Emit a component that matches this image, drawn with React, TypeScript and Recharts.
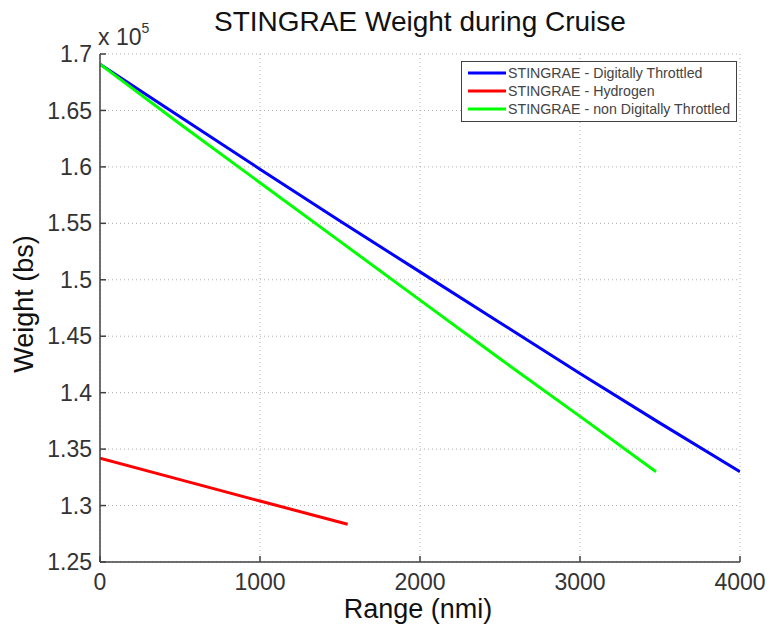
import React from 'react';
import { LineChart, Line, XAxis, YAxis, CartesianGrid, Legend } from 'recharts';

// cruise weight vs range (lbs), one list per configuration
const throttledRange = [0, 500, 1000, 1500, 2000, 2500, 3000, 3500, 4000];
const throttledWeight = [169100, 164450, 159800, 155200, 150700, 146200, 141700, 137300, 133000];

const hydrogenRange = [0, 500, 1000, 1548];
const hydrogenWeight = [134200, 132300, 130400, 128350];

const nonThrottledRange = [0, 500, 1000, 1500, 2000, 2500, 3000, 3475];
const nonThrottledWeight = [169100, 163800, 158600, 153400, 148200, 143000, 137900, 133000];

const xTicks = [0, 1000, 2000, 3000, 4000];
const yTicks = [125000, 130000, 135000, 140000, 145000, 150000, 155000, 160000, 165000, 170000];

const toPoints = (xs: number[], ys: number[]) => xs.map((x, i) => ({ x, w: ys[i] }));

const series = [
  { name: 'STINGRAE - Digitally Throttled', color: '#0000ff', data: toPoints(throttledRange, throttledWeight) },
  { name: 'STINGRAE - Hydrogen', color: '#ff0000', data: toPoints(hydrogenRange, hydrogenWeight) },
  { name: 'STINGRAE - non Digitally Throttled', color: '#00ff00', data: toPoints(nonThrottledRange, nonThrottledWeight) },
];

const FONT = '"Liberation Sans", Arial, Helvetica, sans-serif';
const AXIS = '#404040';
const tickStyle = { fontSize: 23, fill: '#333', fontFamily: FONT };

const fmtY = (v: number) => String(+(v / 1e5).toFixed(2));

const LegendBox = ({ payload }: any) => (
  <div
    style={{
      border: `1.5px solid ${AXIS}`,
      background: '#fff',
      padding: '2px 6px 3px 5px',
      fontFamily: FONT,
      fontSize: 14.2,
      color: '#444',
      lineHeight: '18px',
    }}
  >
    {(payload || []).map((p: any) => (
      <div key={p.value} style={{ display: 'flex', alignItems: 'center', whiteSpace: 'nowrap' }}>
        <svg width={40} height={18} style={{ flex: 'none' }}>
          <line x1={1} x2={39} y1={9} y2={9} stroke={p.color} strokeWidth={3} />
        </svg>
        <span style={{ marginLeft: 1 }}>{p.value}</span>
      </div>
    ))}
  </div>
);

export default function App() {
  return (
    <div style={{ position: 'fixed', left: 0, top: 0, width: 770, height: 627, background: '#fff' }}>
      <LineChart width={770} height={627} margin={{ top: 54, right: 30, bottom: 0, left: 0 }}>
        <CartesianGrid stroke="#b0b0b0" strokeDasharray="1 3" />
        <XAxis
          dataKey="x"
          type="number"
          domain={[0, 4000]}
          ticks={xTicks}
          height={65}
          stroke={AXIS}
          strokeWidth={1.5}
          tickSize={-6}
          tickMargin={18}
          tick={tickStyle}
          allowDataOverflow
        />
        <XAxis
          xAxisId="t"
          orientation="top"
          type="number"
          domain={[0, 4000]}
          ticks={xTicks}
          height={0}
          stroke={AXIS}
          strokeWidth={1.5}
          tickSize={-6}
          tick={false}
        />
        <YAxis
          type="number"
          domain={[125000, 170000]}
          ticks={yTicks}
          width={100}
          stroke={AXIS}
          strokeWidth={1.5}
          tickSize={-6}
          tickMargin={14}
          tick={tickStyle}
          tickFormatter={fmtY}
          allowDataOverflow
        />
        <YAxis
          yAxisId="r"
          orientation="right"
          type="number"
          domain={[125000, 170000]}
          ticks={yTicks}
          width={0}
          stroke={AXIS}
          strokeWidth={1.5}
          tickSize={-6}
          tick={false}
        />
        <Legend
          content={<LegendBox />}
          layout="vertical"
          verticalAlign="middle"
          align="center"
          wrapperStyle={{ left: 461, top: 61, width: 'auto', right: 'auto', bottom: 'auto' }}
        />
        {series.map((s) => (
          <Line
            key={s.name}
            name={s.name}
            data={s.data}
            dataKey="w"
            stroke={s.color}
            strokeWidth={3}
            dot={false}
            activeDot={false}
            isAnimationActive={false}
          />
        ))}
      </LineChart>
      <svg
        width={770}
        height={627}
        style={{ position: 'absolute', left: 0, top: 0, pointerEvents: 'none' }}
        fontFamily={FONT}
      >
        <text x={420} y={31} textAnchor="middle" fontSize={28} fill="#111">
          STINGRAE Weight during Cruise
        </text>
        <text x={418} y={618} textAnchor="middle" fontSize={27} fill="#111">
          Range (nmi)
        </text>
        <text x={33} y={304} textAnchor="middle" fontSize={27} fill="#111" transform="rotate(-90 33 304)">
          Weight (bs)
        </text>
        <text x={98} y={45} fontSize={23} fill="#333">
          x 10
          <tspan fontSize={14} dy={-12}>5</tspan>
        </text>
      </svg>
    </div>
  );
}
